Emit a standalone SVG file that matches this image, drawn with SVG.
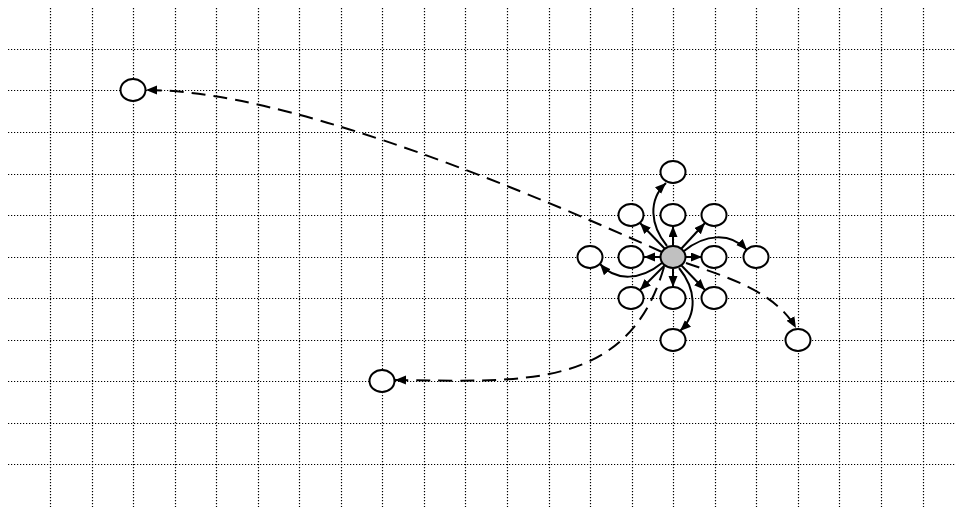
<svg xmlns="http://www.w3.org/2000/svg" width="956" height="507" viewBox="0 0 956 507">
<style>
.grid line{stroke:#000;stroke-width:1.2;stroke-dasharray:1.2 1.8;}
.node{fill:#fff;stroke:#000;stroke-width:2;}
.hub{fill:#c0c0c0;stroke:#000;stroke-width:2;}
.c{fill:none;stroke:#000;stroke-width:2;marker-end:url(#ah);}
.d{fill:none;stroke:#000;stroke-width:2;stroke-dasharray:14 8;marker-end:url(#ah);}
</style>
<defs>
<marker id="ah" markerUnits="userSpaceOnUse" markerWidth="12" markerHeight="10" refX="11" refY="4.5" orient="auto">
<path d="M0,0 L11,4.5 L0,9 z" fill="#000"/>
</marker>
</defs>
<rect width="956" height="507" fill="#fff"/>
<g class="grid" id="grid">
<line x1="8" y1="49.5" x2="956" y2="49.5"/>
<line x1="8" y1="90.5" x2="956" y2="90.5"/>
<line x1="8" y1="132.5" x2="956" y2="132.5"/>
<line x1="8" y1="174.5" x2="956" y2="174.5"/>
<line x1="8" y1="215.5" x2="956" y2="215.5"/>
<line x1="8" y1="257.5" x2="956" y2="257.5"/>
<line x1="8" y1="298.5" x2="956" y2="298.5"/>
<line x1="8" y1="340.5" x2="956" y2="340.5"/>
<line x1="8" y1="381.5" x2="956" y2="381.5"/>
<line x1="8" y1="423.5" x2="956" y2="423.5"/>
<line x1="8" y1="464.5" x2="956" y2="464.5"/>
<line x1="50.5" y1="8" x2="50.5" y2="507"/>
<line x1="92.5" y1="8" x2="92.5" y2="507"/>
<line x1="133.5" y1="8" x2="133.5" y2="507"/>
<line x1="175.5" y1="8" x2="175.5" y2="507"/>
<line x1="216.5" y1="8" x2="216.5" y2="507"/>
<line x1="258.5" y1="8" x2="258.5" y2="507"/>
<line x1="299.5" y1="8" x2="299.5" y2="507"/>
<line x1="341.5" y1="8" x2="341.5" y2="507"/>
<line x1="382.5" y1="8" x2="382.5" y2="507"/>
<line x1="424.5" y1="8" x2="424.5" y2="507"/>
<line x1="465.5" y1="8" x2="465.5" y2="507"/>
<line x1="507.5" y1="8" x2="507.5" y2="507"/>
<line x1="549.5" y1="8" x2="549.5" y2="507"/>
<line x1="590.5" y1="8" x2="590.5" y2="507"/>
<line x1="632.5" y1="8" x2="632.5" y2="507"/>
<line x1="673.5" y1="8" x2="673.5" y2="507"/>
<line x1="715.5" y1="8" x2="715.5" y2="507"/>
<line x1="756.5" y1="8" x2="756.5" y2="507"/>
<line x1="798.5" y1="8" x2="798.5" y2="507"/>
<line x1="839.5" y1="8" x2="839.5" y2="507"/>
<line x1="881.5" y1="8" x2="881.5" y2="507"/>
<line x1="923.5" y1="8" x2="923.5" y2="507"/>
</g>
<g id="connectors">
<line class="c" x1="673" y1="245" x2="673" y2="226"/>
<line class="c" x1="673" y1="269" x2="673" y2="287"/>
<line class="c" x1="685" y1="257" x2="702" y2="257"/>
<line class="c" x1="661" y1="257" x2="644" y2="257"/>
<line class="c" x1="681" y1="249" x2="705" y2="223"/>
<line class="c" x1="665" y1="249" x2="640" y2="223"/>
<line class="c" x1="681" y1="265" x2="705" y2="290"/>
<line class="c" x1="665" y1="265" x2="640" y2="290"/>
<path class="c" d="M667,246 C650,225 648,200 666,183"/>
<path class="c" d="M684,251 C705,234 730,232 747,250"/>
<path class="c" d="M679,268 C696,289 698,314 680,331"/>
<path class="c" d="M662,263 C641,280 616,282 600,264"/>
<path class="d" d="M662,252 Q302,90 146,90"/>
<path class="d" d="M664,267 C628,392 520,381 395,380"/>
<path class="d" d="M686,263 C730,278 775,292 796,328"/>
</g>
<g id="n-far1"><ellipse class="node" cx="133" cy="90" rx="12.5" ry="11"/></g>
<g id="n-far2"><ellipse class="node" cx="382" cy="381" rx="12.5" ry="11"/></g>
<g id="n-far3"><ellipse class="node" cx="798" cy="340" rx="12.5" ry="11"/></g>
<g id="n-top"><ellipse class="node" cx="673" cy="172" rx="12.5" ry="11"/></g>
<g id="n-bottom"><ellipse class="node" cx="673" cy="340" rx="12.5" ry="11"/></g>
<g id="n-left"><ellipse class="node" cx="590" cy="257" rx="12.5" ry="11"/></g>
<g id="n-right"><ellipse class="node" cx="756" cy="257" rx="12.5" ry="11"/></g>
<g id="n-ul"><ellipse class="node" cx="631" cy="215" rx="12.5" ry="11"/></g>
<g id="n-u"><ellipse class="node" cx="673" cy="215" rx="12.5" ry="11"/></g>
<g id="n-ur"><ellipse class="node" cx="714" cy="215" rx="12.5" ry="11"/></g>
<g id="n-l"><ellipse class="node" cx="631" cy="257" rx="12.5" ry="11"/></g>
<g id="n-r"><ellipse class="node" cx="714" cy="257" rx="12.5" ry="11"/></g>
<g id="n-dl"><ellipse class="node" cx="631" cy="298" rx="12.5" ry="11"/></g>
<g id="n-d"><ellipse class="node" cx="673" cy="298" rx="12.5" ry="11"/></g>
<g id="n-dr"><ellipse class="node" cx="714" cy="298" rx="12.5" ry="11"/></g>
<g id="n-hub"><ellipse class="hub" cx="673" cy="257" rx="12.5" ry="11"/></g>
</svg>
